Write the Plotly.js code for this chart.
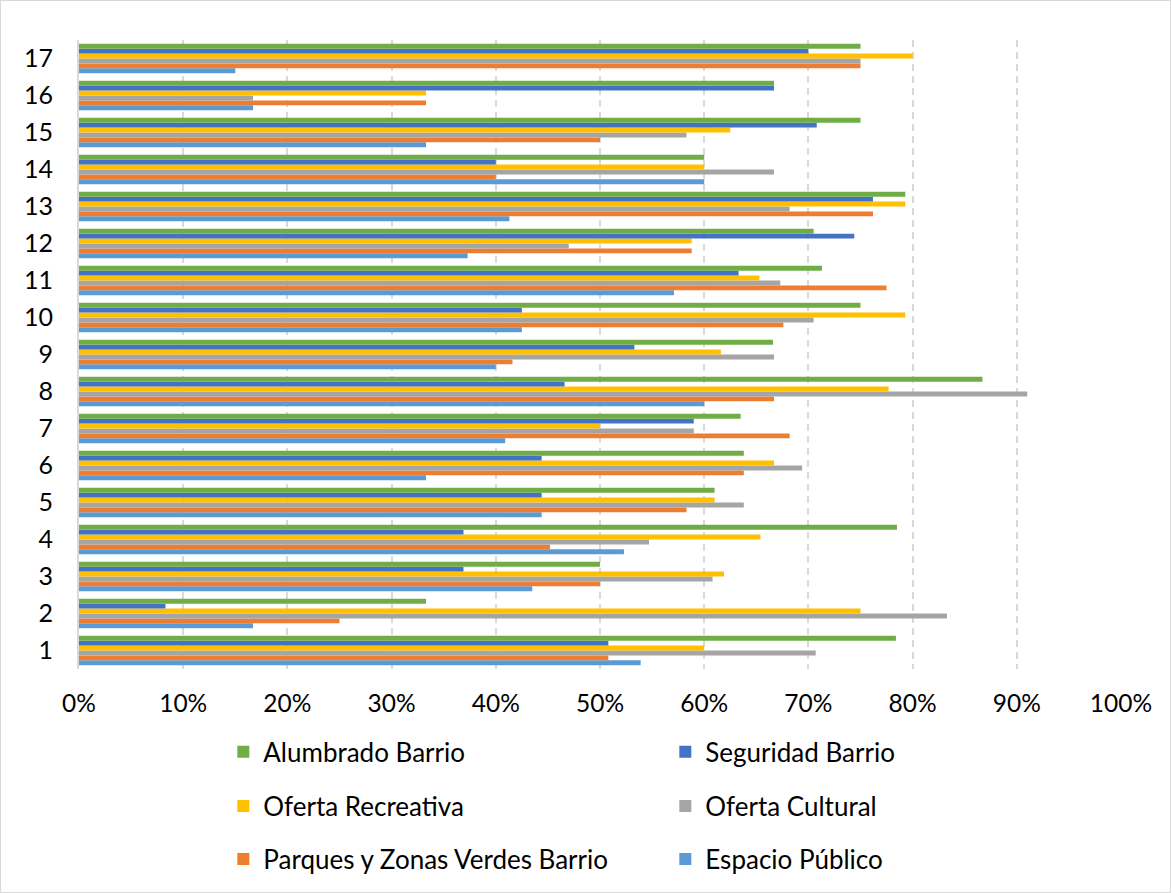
<!DOCTYPE html>
<html>
<head>
<meta charset="utf-8">
<script src="https://cdn.plot.ly/plotly-3.0.1.min.js"></script>
<style>
html,body{margin:0;padding:0;background:#fff;}
#wrap{position:relative;width:1171px;height:893px;}
#chart{width:1171px;height:893px;}
#frame{position:absolute;left:0;top:0;width:1171px;height:893px;box-sizing:border-box;border:1px solid #d9d9d9;pointer-events:none;}
</style>
</head>
<body>
<div id="wrap"><div id="chart"></div><div id="frame"></div></div>
<script>
const categories = ['1','2','3','4','5','6','7','8','9','10','11','12','13','14','15','16','17'];

const espacioPublico = [0.539,0.167,0.435,0.523,0.444,0.333,0.409,0.600,0.400,0.425,0.571,0.373,0.413,0.600,0.333,0.167,0.150];
const parquesZonasVerdes = [0.508,0.250,0.500,0.452,0.583,0.638,0.682,0.667,0.416,0.676,0.775,0.588,0.762,0.400,0.500,0.333,0.750];
const ofertaCultural = [0.707,0.833,0.608,0.547,0.638,0.694,0.590,0.910,0.667,0.705,0.673,0.470,0.682,0.667,0.583,0.167,0.750];
const ofertaRecreativa = [0.600,0.750,0.619,0.654,0.610,0.667,0.500,0.777,0.616,0.793,0.653,0.588,0.793,0.600,0.625,0.333,0.800];
const seguridadBarrio = [0.508,0.083,0.369,0.369,0.444,0.444,0.590,0.466,0.533,0.425,0.633,0.744,0.762,0.400,0.708,0.667,0.700];
const alumbradoBarrio = [0.784,0.333,0.500,0.785,0.610,0.638,0.635,0.867,0.666,0.750,0.713,0.705,0.793,0.600,0.750,0.667,0.750];

const xTickValues = [0,0.1,0.2,0.3,0.4,0.5,0.6,0.7,0.8,0.9,1.0];

const seriesDefs = [
  {name:'Espacio Público', values:espacioPublico, color:'#5B9BD5', legend:'legend3'},
  {name:'Parques y Zonas Verdes Barrio', values:parquesZonasVerdes, color:'#ED7D31', legend:'legend3'},
  {name:'Oferta Cultural', values:ofertaCultural, color:'#A5A5A5', legend:'legend2'},
  {name:'Oferta Recreativa', values:ofertaRecreativa, color:'#FFC000', legend:'legend2'},
  {name:'Seguridad Barrio', values:seguridadBarrio, color:'#4472C4', legend:'legend'},
  {name:'Alumbrado Barrio', values:alumbradoBarrio, color:'#70AD47', legend:'legend'}
];

const traces = seriesDefs.map(s => ({
  type:'bar',
  orientation:'h',
  name:s.name,
  x:s.values,
  y:categories,
  legend:s.legend,
  marker:{color:s.color, line:{width:0}},
  hoverinfo:'name+x'
}));

const FONT = 'Lato, "Open Sans", "Liberation Sans", sans-serif';
const legendCommon = {
  orientation:'h',
  traceorder:'reversed',
  xanchor:'left',
  yanchor:'middle',
  x:0.1385,
  entrywidth:397,
  entrywidthmode:'pixels',
  font:{family:FONT, size:26, color:'#000'},
  bgcolor:'rgba(0,0,0,0)',
  itemclick:false,
  itemdoubleclick:false
};

const layout = {
  width:1171,
  height:893,
  margin:{l:79, r:50, t:40, b:223},
  paper_bgcolor:'#fff',
  plot_bgcolor:'#fff',
  font:{family:FONT, size:24, color:'#000'},
  barmode:'group',
  bargap:0.2,
  bargroupgap:0,
  showlegend:true,
  xaxis:{
    range:[0,1],
    tickvals:xTickValues,
    tickformat:'.0%',
    showgrid:true,
    gridcolor:'#d9d9d9',
    griddash:'7px,5px',
    gridwidth:1.5,
    zeroline:false,
    showline:false,
    ticks:'',
    ticklabelstandoff:17,
    tickfont:{family:FONT, size:24.5, color:'#000'},
    fixedrange:true
  },
  yaxis:{
    type:'category',
    categoryorder:'array',
    categoryarray:categories,
    showgrid:false,
    zeroline:false,
    showline:true,
    linecolor:'#d9d9d9',
    linewidth:2,
    ticks:'',
    ticklabelstandoff:19,
    tickfont:{family:FONT, size:25, color:'#000'},
    fixedrange:true
  },
  legend: Object.assign({}, legendCommon, {y:-0.130}),
  legend2: Object.assign({}, legendCommon, {y:-0.216}),
  legend3: Object.assign({}, legendCommon, {y:-0.300})
};

Plotly.newPlot('chart', traces, layout, {displayModeBar:false});
</script>
</body>
</html>
